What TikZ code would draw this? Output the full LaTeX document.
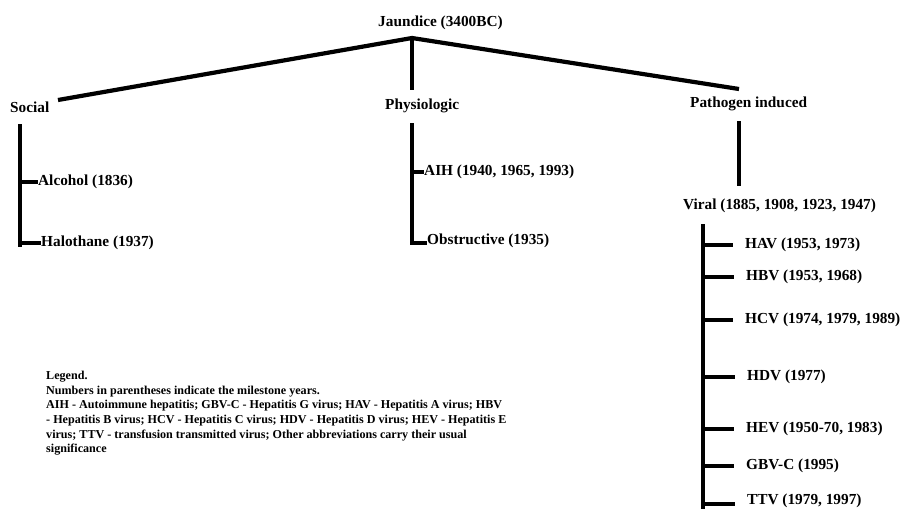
\documentclass[tikz,border=0pt]{standalone}
\usepackage{fontspec}
\setmainfont{Liberation Serif}
\begin{document}
\begin{tikzpicture}[x=1pt,y=-1pt,
  lbl/.style={font=\bfseries\fontsize{15.3}{17}\selectfont,inner sep=0pt,anchor=west},
  br/.style={line width=4.2pt,line cap=butt},
  tk/.style={line width=4pt,line cap=butt},
  lgd/.style={font=\bfseries\fontsize{12.1}{14.6}\selectfont,inner sep=0pt,anchor=north west,align=left}]
\useasboundingbox (0,0) rectangle (900,509);
% labels
\node[lbl] (jau) at (378,23) {Jaundice (3400BC)};
\node[lbl] (soc) at (10,107) {Social};
\node[lbl] (phy) at (385,106) {Physiologic};
\node[lbl] (pat) at (690,104) {Pathogen induced};
\node[lbl] (vir) at (683,206) {Viral (1885, 1908, 1923, 1947)};
\node[lbl] (alc) at (38,182) {Alcohol (1836)};
\node[lbl] (hal) at (41,243) {Halothane (1937)};
\node[lbl] (aih) at (424,172) {AIH (1940, 1965, 1993)};
\node[lbl] (obs) at (427,241) {Obstructive (1935)};
\node[lbl] (hav) at (745,245) {HAV (1953, 1973)};
\node[lbl] (hbv) at (746,277) {HBV (1953, 1968)};
\node[lbl] (hcv) at (745,320) {HCV (1974, 1979, 1989)};
\node[lbl] (hdv) at (747,377) {HDV (1977)};
\node[lbl] (hev) at (746,429) {HEV (1950-70, 1983)};
\node[lbl] (gbv) at (746,466) {GBV-C (1995)};
\node[lbl] (ttv) at (747,501) {TTV (1979, 1997)};
% coordinates
\coordinate (apex) at (412,38);
\coordinate (socend) at (58,100);
\coordinate (patend) at (739,89);
\coordinate (phytop) at (412,90);
\coordinate (s1) at (20,124); \coordinate (s2) at (20,247);
\coordinate (sa) at (20,182); \coordinate (sb) at (20,243);
\coordinate (p1) at (412,123); \coordinate (p2) at (412,245);
\coordinate (pa) at (412,172); \coordinate (pb) at (412,243);
\coordinate (v1) at (739,121); \coordinate (v2) at (739,186);
\coordinate (w1) at (703,224); \coordinate (w2) at (703,509);
\foreach \n/\y in {hav/245,hbv/277,hcv/320,hdv/377,hev/429,gbv/466,ttv/504}
  \coordinate (t\n) at (703,\y);
% main branches
\draw[br] (socend) -- (apex) -- (patend);
\draw[br] (apex) -- (phytop);
\draw[br] (s1) -- (s2);
\draw[tk] (sa) -- (sa -| alc.west);
\draw[tk] (sb) -- (sb -| hal.west);
\draw[br] (p1) -- (p2);
\draw[tk] (pa) -- (pa -| aih.west);
\draw[tk] (pb) -- (pb -| obs.west);
\draw[br] (v1) -- (v2);
\draw[br] (w1) -- (w2);
\foreach \n in {hav,hbv,hcv,hdv,hev,gbv,ttv}
  \draw[tk] (t\n) -- ([xshift=-12pt]t\n -| \n.west);
% legend
\node[lgd] (leg) at (46,371) {Legend.\\
Numbers in parentheses indicate the milestone years.\\
AIH - Autoimmune hepatitis; GBV-C - Hepatitis G virus; HAV - Hepatitis A virus; HBV\\
- Hepatitis B virus; HCV - Hepatitis C virus; HDV - Hepatitis D virus; HEV - Hepatitis E\\
virus; TTV - transfusion transmitted virus; Other abbreviations carry their usual\\
significance};
\end{tikzpicture}
\end{document}
